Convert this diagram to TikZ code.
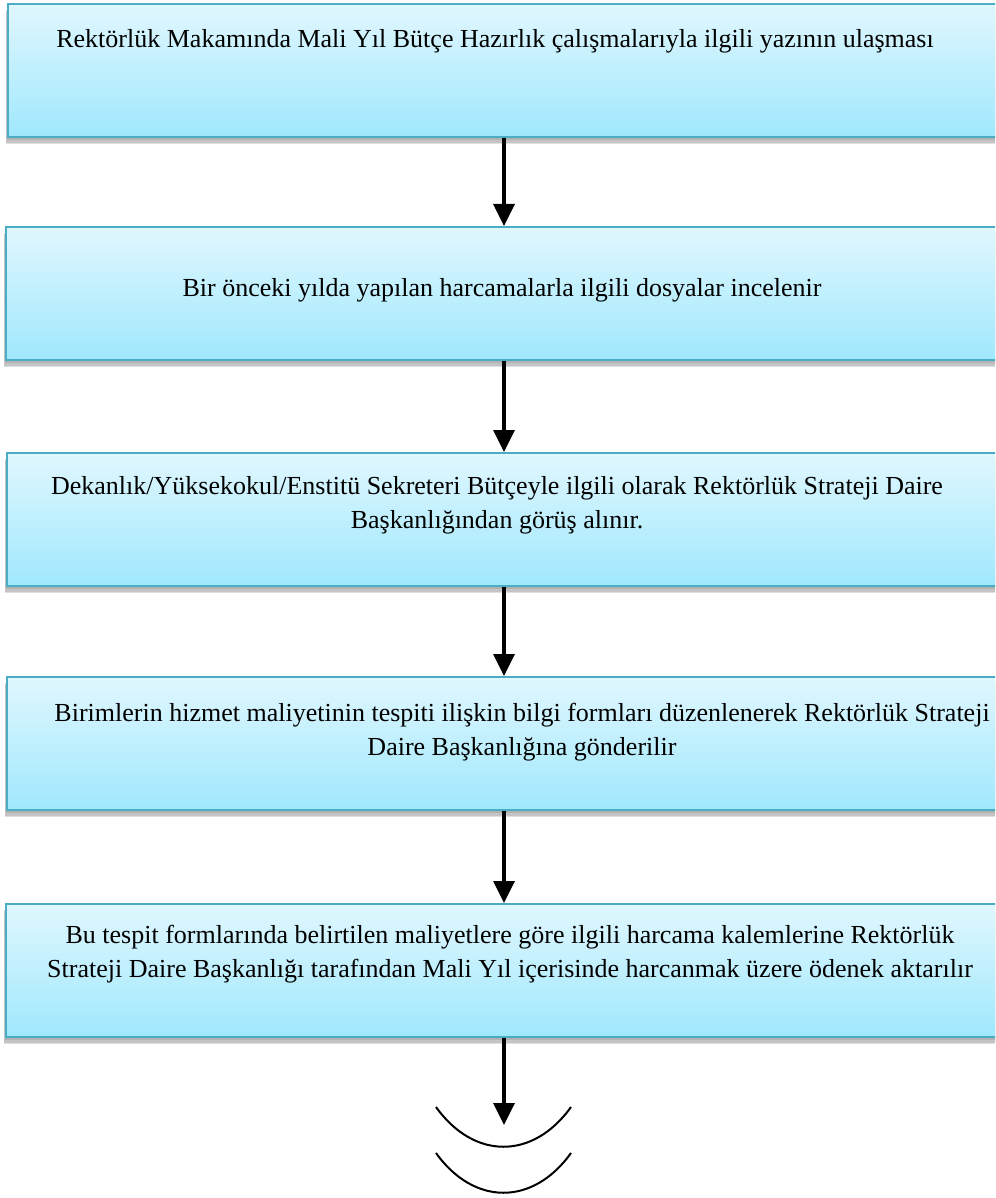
\documentclass[tikz,border=0pt]{standalone}
\usepackage{fontspec}
\setmainfont{Liberation Serif}
\usetikzlibrary{shadows,arrows.meta}

\definecolor{boxtop}{RGB}{224,247,254}
\definecolor{boxbottom}{RGB}{160,232,253}
\definecolor{boxline}{RGB}{75,172,198}

\tikzset{
  flowbox/.style={draw=boxline, line width=1.6pt, top color=boxtop, bottom color=boxbottom,
    minimum width=1010pt, minimum height=133pt, anchor=north west, inner sep=0pt,
    double copy shadow={shadow xshift=-1pt, shadow yshift=-3pt, draw=none, fill=black!35, opacity=0.35},
    drop shadow={shadow xshift=-2pt, shadow yshift=-7pt, fill=black, opacity=0.12}},
  flowtext/.style={align=center, anchor=base, inner sep=0pt, font=\fontsize{26}{34}\selectfont},
  flowarrow/.style={line width=3.5pt, -{Triangle[length=22pt,width=21pt]}},
  waitarc/.style={line width=2pt}
}

\begin{document}
\begin{tikzpicture}[x=1pt,y=-1pt]
\useasboundingbox (0,0) rectangle (995,1198);
\clip (0,0) rectangle (995,1198);

\node[flowbox] (b1) at (7,3) {};
\node[flowbox] (b2) at (5,226) {};
\node[flowbox] (b3) at (6,452) {};
\node[flowbox] (b4) at (6,676) {};
\node[flowbox] (b5) at (5,903) {};

\node[flowtext] (t1) at (495,48) {Rektörlük Makamında Mali Yıl Bütçe Hazırlık çalışmalarıyla ilgili yazının ulaşması};
\node[flowtext] (t2) at (502,296) {Bir önceki yılda yapılan harcamalarla ilgili dosyalar incelenir};
\node[flowtext] (t3) at (497,528) {Dekanlık/Yüksekokul/Enstitü Sekreteri Bütçeyle ilgili olarak Rektörlük Strateji Daire\\Başkanlığından görüş alınır.};
\node[flowtext] (t4) at (522,755) {Birimlerin hizmet maliyetinin tespiti ilişkin bilgi formları düzenlenerek Rektörlük Strateji\\Daire Başkanlığına gönderilir};
\node[flowtext] (t5) at (510,977) {Bu tespit formlarında belirtilen maliyetlere göre ilgili harcama kalemlerine Rektörlük\\Strateji Daire Başkanlığı tarafından Mali Yıl içerisinde harcanmak üzere ödenek aktarılır};

\coordinate (ax) at (504,0);
\coordinate (end) at (504,1125);

\draw[flowarrow] (b1.south -| ax) -- (b2.north -| ax);
\draw[flowarrow] (b2.south -| ax) -- (b3.north -| ax);
\draw[flowarrow] (b3.south -| ax) -- (b4.north -| ax);
\draw[flowarrow] (b4.south -| ax) -- (b5.north -| ax);
\draw[flowarrow] (b5.south -| ax) -- (end);

\draw[waitarc] (436,1107) .. controls (474,1160) and (533,1160) .. (571,1107);
\draw[waitarc] (436,1153) .. controls (474,1206) and (533,1206) .. (571,1153);
\end{tikzpicture}
\end{document}
